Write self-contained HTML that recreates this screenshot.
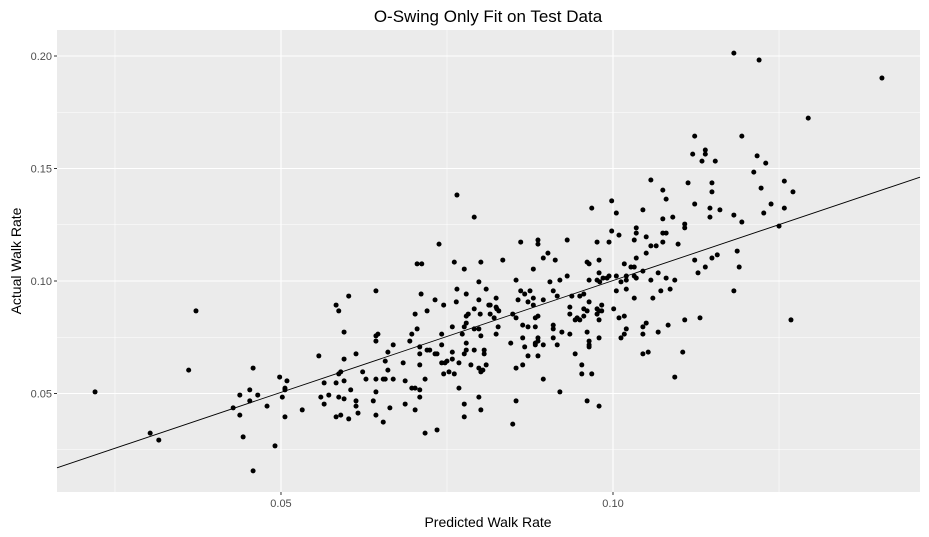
<!DOCTYPE html>
<html><head><meta charset="utf-8"><style>
html,body{margin:0;padding:0;background:#fff;}
svg{display:block;font-family:"Liberation Sans",sans-serif;}
</style></head><body>
<svg id="chart" width="929" height="537" viewBox="0 0 929 537" xmlns="http://www.w3.org/2000/svg">
<rect x="0" y="0" width="929" height="537" fill="#fff"/>
<rect x="57" y="30" width="863" height="462" fill="#EBEBEB"/>
<g id="grid"></g>
<g id="line"></g>
<g id="pts"></g>
<g id="axes"></g>
<text x="488" y="22" text-anchor="middle" font-size="17" fill="#000">O-Swing Only Fit on Test Data</text>
<text x="488" y="527" text-anchor="middle" font-size="14" fill="#000">Predicted Walk Rate</text>
<text transform="translate(21,261) rotate(-90)" text-anchor="middle" font-size="14" fill="#000">Actual Walk Rate</text>
</svg>
<script>
const xTicks=[0.05,0.10];
const xTickLabels=["0.05","0.10"];
const xMinor=[0.025,0.075,0.125];
const yTicks=[0.05,0.10,0.15,0.20];
const yTickLabels=["0.05","0.10","0.15","0.20"];
const yMinor=[0.025,0.075,0.125,0.175];
const fitIntercept=0.0008;
const fitSlope=0.994;
const predicted=[
.0220,.0361,.0372,.0303,.0316,.0458,.0443,.0491,.0458,.0498,
.0509,.0506,.0506,.0453,.0438,.0465,.0453,.0428,.0479,.0502,
.0438,.0506,.0532,.0738,.0705,.0712,.0761,.0776,.0801,.0798,
.0809,.0824,.0643,.0602,.0583,.0587,.0595,.0711,.0732,.0745,
.0765,.0779,.0764,.0798,.0813,.0702,.0720,.0791,.0782,.0779,
.0800,.0824,.0821,.0828,.0643,.0646,.0643,.0705,.0697,.0694,
.0758,.0742,.0776,.0773,.0779,.0791,.0798,.0801,.0827,.0824,
.0557,.0613,.0595,.0669,.0661,.0657,.0709,.0709,.0720,.0724,
.0742,.0732,.0735,.0758,.0779,.0779,.0776,.0791,.0806,.0806,
.0758,.0750,.0742,.0747,.0768,.0786,.0809,.0798,.0801,.0804,
.0709,.0684,.0623,.0590,.0587,.0661,.0565,.0583,.0595,.0628,
.0643,.0654,.0657,.0669,.0687,.0717,.0745,.0753,.0761,.0605,
.0643,.0697,.0702,.0709,.0709,.0768,.0560,.0572,.0587,.0595,
.0565,.0613,.0613,.0639,.0583,.0590,.0602,.0616,.0643,.0654,
.0664,.0687,.0702,.0776,.0798,.0801,.0776,.0735,.0717,.0849,
.0854,.0961,.0979,.0765,.0791,.1057,.1113,.1075,.1080,.0998,
.0968,.1005,.1045,.1075,.1090,.1108,.1108,.0998,.1009,.1035,
.1035,.1050,.1032,.1075,.1080,.1075,.1098,.1057,.1065,.1050,
.0861,.0887,.0887,.0931,.0976,.0994,.0902,.0895,.0913,.0834,
.0961,.0964,.0979,.1035,.1017,.1027,.1032,.0880,.0979,.1045,
.1068,.0854,.0905,.0920,.0931,.0964,.0976,.0980,.0985,.0991,
.0994,.1005,.1020,.1020,.1012,.1032,.1035,.1057,.1080,.1093,
.0861,.0867,.0875,.0910,.0916,.0938,.0950,.0956,.1005,.1020,
.1072,.1086,.1032,.1060,.0857,.0872,.0880,.0895,.0880,.0825,
.0815,.0815,.0849,.0854,.0883,.0887,.0935,.0964,.0935,.0943,
.0946,.0950,.0956,.0956,.0961,.0976,.0979,.0983,.0983,.0976,
.0979,.1001,.1009,.1017,.0864,.0872,.0883,.0910,.0910,.0923,
.0935,.0961,.1020,.1017,.1012,.1045,.1050,.1045,.1068,.1083,
.1108,.0846,.0864,.0867,.0887,.0887,.0883,.0883,.0895,.0910,
.0916,.0964,.0964,.0964,.0979,.0943,.1045,.1053,.1105,.0872,
.0887,.0854,.0864,.0953,.0953,.0968,.0895,.1093,.0920,.1182,
.1220,.1405,.1294,.1123,.1194,.1120,.1139,.1139,.1134,.1154,
.1217,.1230,.1212,.1149,.1149,.1223,.1258,.1271,.1123,.1146,
.1161,.1146,.1182,.1194,.1238,.1227,.1258,.1250,.1123,.1149,
.1157,.1139,.1128,.1187,.1190,.1182,.1131,.1268
];
const actual=[
.0507,.0604,.0867,.0324,.0293,.0613,.0307,.0267,.0156,.0573,
.0556,.0524,.0516,.0516,.0493,.0493,.0467,.0436,.0444,.0484,
.0404,.0396,.0427,.1164,.1076,.1076,.1084,.1053,.1084,.0996,
.0964,.0924,.0956,.0933,.0893,.0867,.0773,.0942,.0916,.0893,
.0964,.0942,.0907,.0916,.0893,.0853,.0867,.0876,.0853,.0844,
.0853,.0884,.0836,.0867,.0756,.0764,.0733,.0787,.0764,.0733,
.0796,.0764,.0796,.0764,.0813,.0787,.0787,.0756,.0796,.0764,
.0667,.0676,.0653,.0716,.0684,.0644,.0707,.0676,.0693,.0693,
.0716,.0676,.0676,.0684,.0724,.0693,.0676,.0693,.0693,.0676,
.0653,.0644,.0636,.0636,.0636,.0627,.0627,.0613,.0596,.0604,
.0627,.0636,.0596,.0596,.0587,.0604,.0547,.0547,.0556,.0564,
.0564,.0564,.0564,.0564,.0556,.0564,.0587,.0596,.0587,.0516,
.0507,.0524,.0524,.0516,.0484,.0524,.0484,.0493,.0484,.0476,
.0453,.0467,.0444,.0467,.0396,.0404,.0387,.0413,.0404,.0373,
.0436,.0453,.0427,.0453,.0484,.0427,.0396,.0338,.0324,.0364,
.0467,.0467,.0444,.1382,.1284,.1449,.1436,.1404,.1364,.1356,
.1324,.1302,.1316,.1276,.1284,.1253,.1236,.1222,.1204,.1236,
.1213,.1196,.1182,.1213,.1213,.1173,.1164,.1156,.1156,.1124,
.1173,.1182,.1164,.1182,.1173,.1173,.1124,.1102,.1093,.1093,
.1084,.1076,.1093,.1102,.1076,.1062,.1062,.1053,.1036,.1044,
.1036,.1004,.0996,.1004,.1022,.1004,.1004,.0996,.1013,.1013,
.1022,.1022,.1022,.1004,.0996,.1022,.1013,.1004,.1013,.1004,
.0956,.0942,.0956,.0956,.0933,.0933,.0933,.0942,.0956,.0964,
.0956,.0964,.0924,.0924,.0916,.0907,.0924,.0916,.0893,.0876,
.0893,.0853,.0853,.0836,.0836,.0844,.0884,.0907,.0853,.0827,
.0836,.0827,.0844,.0876,.0867,.0876,.0867,.0893,.0867,.0853,
.0827,.0876,.0836,.0844,.0804,.0796,.0796,.0804,.0787,.0773,
.0764,.0773,.0787,.0764,.0747,.0796,.0813,.0764,.0773,.0804,
.0827,.0724,.0747,.0707,.0747,.0733,.0724,.0716,.0716,.0747,
.0716,.0733,.0716,.0707,.0747,.0676,.0676,.0684,.0684,.0667,
.0667,.0613,.0627,.0627,.0587,.0587,.0564,.0573,.0507,.2013,
.1982,.1902,.1724,.1644,.1644,.1564,.1582,.1564,.1533,.1533,
.1556,.1524,.1484,.1436,.1396,.1413,.1444,.1396,.1342,.1324,
.1316,.1284,.1293,.1262,.1342,.1302,.1324,.1244,.1093,.1102,
.1116,.1062,.1036,.1133,.1062,.0956,.0836,.0827
];
const NS="http://www.w3.org/2000/svg";
const L=57,R=920,T=30,B=492;
const xMin=0.01627,xMax=0.14623,yMin=0.00622,yMax=0.21156;
function sx(v){return L+(v-xMin)/(xMax-xMin)*(R-L);}
function sy(v){return B-(v-yMin)/(yMax-yMin)*(B-T);}
function mk(tag,attrs,parent){const e=document.createElementNS(NS,tag);for(const k in attrs)e.setAttribute(k,attrs[k]);parent.appendChild(e);return e;}
const grid=document.getElementById('grid');
xMinor.forEach(v=>{const e=mk('line',{x1:sx(v),x2:sx(v),y1:T,y2:B,stroke:'#fff','stroke-width':0.55},grid);

});
yMinor.forEach(v=>{const e=mk('line',{x1:L,x2:R,y1:sy(v),y2:sy(v),stroke:'#fff','stroke-width':0.55},grid);

});
xTicks.forEach(v=>{const e=mk('line',{x1:sx(v),x2:sx(v),y1:T,y2:B,stroke:'#fff','stroke-width':1.1},grid);

});
yTicks.forEach(v=>{const e=mk('line',{x1:L,x2:R,y1:sy(v),y2:sy(v),stroke:'#fff','stroke-width':1.1},grid);

});
const lg=document.getElementById('line');
const fl=mk('line',{x1:sx(xMin),y1:sy(fitIntercept+fitSlope*xMin),x2:sx(xMax),y2:sy(fitIntercept+fitSlope*xMax),stroke:'#000','stroke-width':0.9},lg);


const pg=document.getElementById('pts');
for(let i=0;i<predicted.length;i++){
const c=mk('circle',{cx:sx(predicted[i]),cy:sy(actual[i]),r:2.5,fill:'#000'},pg);


}
const ax=document.getElementById('axes');
xTicks.forEach((v,i)=>{
const t=mk('line',{x1:sx(v),x2:sx(v),y1:B,y2:B+3,stroke:'#333','stroke-width':1},ax);


const l=mk('text',{x:sx(v),y:B+15,'text-anchor':'middle','font-size':11,fill:'#4d4d4d'},ax);
l.textContent=xTickLabels[i];


});
yTicks.forEach((v,i)=>{
const t=mk('line',{x1:L-3,x2:L,y1:sy(v),y2:sy(v),stroke:'#333','stroke-width':1},ax);


const l=mk('text',{x:L-5,y:sy(v)+4,'text-anchor':'end','font-size':11,fill:'#4d4d4d'},ax);
l.textContent=yTickLabels[i];


});
</script>
</body></html>
